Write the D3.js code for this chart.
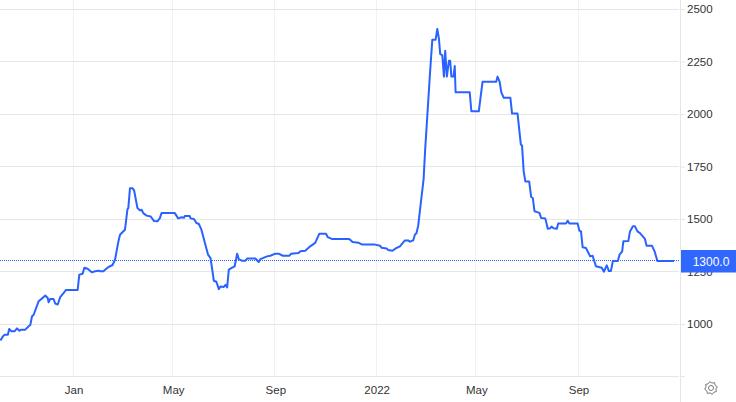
<!DOCTYPE html>
<html><head><meta charset="utf-8">
<script src="https://cdnjs.cloudflare.com/ajax/libs/d3/7.8.5/d3.min.js"></script>
<style>html,body{margin:0;padding:0;background:#fff;overflow:hidden}svg{display:block}text{font-family:"Liberation Sans",Arial,sans-serif}</style>
</head><body><div id="c"></div>
<script>
// days since 2021-01-01
const dayOffsets=[-88,-85,-83,-79,-77.4,-75,-71,-68,-65,-63,-58,-54,-52,-50,-48,-42,-36,-34,-31,-30,-28,-24,-22,-19,-16,-12,-9,5,7,11,13,17,22,26,30,32,36,42,47,50,54,56,58,62,65,66,68,71,73,77,80,82,84,88,93,97,101,104,106,122,126,130,133,134,140,141,145,148,151,154,162,165,169,172,175,177,181,183,185,187,191,194,197,199,203,207,209,219,223,225,233,237,243,247,252,260,262,271,273,279,285,291,296,304,306,311,332,336,343,347,363,369,371,377,379,384,388,393,399,403,405,409,411,413,415,417,421.5,423.4,429.4,432,436,438,440,441.5,444,446,447.5,449.5,452,453.5,455,457.5,459,460,477,479,488,490,492.5,509,510.5,513,515,518,526,528,534.6,538.6,540,542,544,548.6,551,553,555,561,563,568,571,574,575.5,578,582,583.5,593,595,597,607,609,611,613,617,622,625,629,636,638.6,642,644.6,647,649.4,655.4,657.4,660.6,662,668,670,673.5,676,679,682,688,690,696.4,699.6,703,723];
const prices=[922,941,949,949,976,966,965,979,968,973,973,989,995,1036,1044,1108,1128,1136,1124,1103,1119,1119,1097,1093,1128,1147,1162,1162,1235,1239,1268,1263,1246,1251,1254,1251,1251,1271,1281,1306,1392,1425,1433,1449,1547,1552,1647,1647,1636,1552,1541,1544,1528,1516,1512,1490,1489,1504,1528,1528,1503,1508,1506,1514,1514,1503,1500,1481,1476,1449,1330,1314,1206,1201,1166,1179,1176,1187,1174,1259,1268,1274,1335,1309,1301,1301,1312,1312,1295,1309,1322,1325,1335,1335,1325,1325,1335,1338,1346,1349,1370,1386,1430,1430,1414,1405,1405,1390,1387,1379,1378,1373,1363,1360,1352,1349,1360,1370,1398,1398,1392,1398,1425,1433,1468,1536,1690,1832,2205,2354,2354,2405,2357,2285,2280,2178,2301,2178,2253,2253,2178,2178,2229,2104,2104,2013,2013,2077,2154,2154,2178,2154,2104,2077,2077,2002,2002,1854,1851,1727,1679,1679,1605,1600,1537,1529,1505,1503,1454,1456,1464,1456,1454,1478,1479,1492,1479,1478,1445,1441,1365,1362,1322,1325,1275,1268,1249,1279,1252,1252,1300,1300,1330,1346,1394,1395,1441,1465,1465,1441,1433,1405,1373,1373,1346,1300,1300];
const priceTicks=[1000,1250,1500,1750,2000,2250,2500];
const timeTickDates=["2021-01-01","2021-05-01","2021-09-01","2022-01-01","2022-05-01","2022-09-01"];
const timeTickLabels=["Jan","May","Sep","2022","May","Sep"];
const lastPrice=1300;
const lastLabel="1300.0";

const W=736,H=402,plotR=680,plotB=376;
const base=Date.UTC(2021,0,1);
const toDate=d=>new Date(base+d*864e5);
const x=d3.scaleUtc().domain([toDate(0),toDate(608)]).range([73.5,578.5]);
const y=d3.scaleLinear().domain([1000,2500]).range([324,9]);
const rowY=v=>Math.floor(y(v))+.5;
const svg=d3.select("#c").append("svg").attr("width",W).attr("height",H);

const xTicks=timeTickDates.map(s=>new Date(s+"T00:00:00Z"));
// vertical grid
svg.append("g").selectAll("line").data(xTicks).join("line")
 .attr("x1",d=>Math.round(x(d))-.5).attr("x2",d=>Math.round(x(d))-.5).attr("y1",0).attr("y2",plotB)
 .attr("stroke","#eef2f7");
// horizontal grid
svg.append("g").selectAll("line").data(priceTicks).join("line")
 .attr("x1",0).attr("x2",679).attr("y1",rowY).attr("y2",rowY).attr("stroke","#e6e6e6");
// frame
svg.append("line").attr("x1",680.5).attr("x2",680.5).attr("y1",0).attr("y2",H).attr("stroke","#e6e6e6");
svg.append("line").attr("x1",0).attr("x2",679).attr("y1",plotB+.5).attr("y2",plotB+.5).attr("stroke","#e6e6e6");
svg.append("line").attr("x1",681).attr("x2",685).attr("y1",plotB+.5).attr("y2",plotB+.5).attr("stroke","#e6e6e6");

// axes
const ay=svg.append("g").attr("transform","translate(681,0)")
 .call(d3.axisRight(y).tickValues(priceTicks).tickSize(4).tickPadding(2).tickFormat(d3.format("d")));
ay.select(".domain").remove();
ay.selectAll("line").attr("stroke","#e6e6e6");
ay.selectAll("text").attr("fill","#333").attr("font-size",11.5).attr("font-family","Liberation Sans");
const ax=svg.append("g").attr("transform",`translate(0,${plotB})`)
 .call(d3.axisBottom(x).tickValues(xTicks).tickSize(0).tickPadding(10).tickFormat((d,i)=>timeTickLabels[i]));
ax.select(".domain").remove();
ax.selectAll("text").attr("fill","#333").attr("font-size",11.5).attr("font-family","Liberation Sans");

// dotted last-price line
svg.append("line").attr("x1",0).attr("x2",680).attr("y1",rowY(lastPrice)-1).attr("y2",rowY(lastPrice)-1)
 .attr("stroke","#2962ff").attr("stroke-dasharray","1 1");
// series
const pts=dayOffsets.map((d,i)=>[toDate(d),prices[i]]);
svg.append("path").datum(pts).attr("fill","none").attr("stroke","#2962ff").attr("stroke-width",2)
 .attr("stroke-linejoin","round").attr("d",d3.line().x(d=>x(d[0])).y(d=>y(d[1])));

// last-price tag
svg.append("rect").attr("x",681).attr("width",55).attr("y",y(lastPrice)-11).attr("height",22.5).attr("fill","#3067ff");
svg.append("text").attr("x",711).attr("y",y(lastPrice)+4.5).attr("text-anchor","middle")
 .attr("fill","#fff").attr("font-size",12).text(lastLabel);

// settings gear
const g=svg.append("g").attr("transform","translate(711,388)").attr("fill","none").attr("stroke","#7a7a7a");
g.append("circle").attr("r",2.5);
const teeth=d3.range(16).map(i=>{const a=i/16*2*Math.PI-Math.PI/16,r=(i%2===0)?6.5:5;return [r*Math.cos(a),r*Math.sin(a)];});
g.append("path").attr("d",d3.line().curve(d3.curveLinearClosed)(teeth));
</script></body></html>
